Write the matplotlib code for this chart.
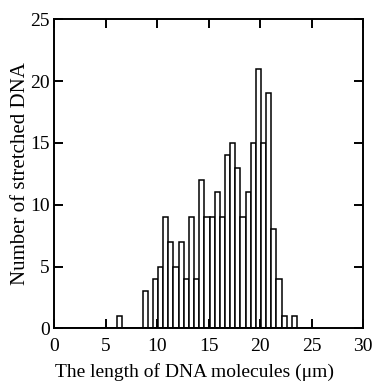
import numpy as np
import matplotlib.pyplot as plt

plt.rcParams['font.family'] = ['Liberation Serif', 'DejaVu Serif']

# histogram bins (0.5 um wide), left edges and counts
bin_left = [6.1, 8.6, 9.1, 9.6, 10.1, 10.6, 11.1, 11.6, 12.1, 12.6, 13.1, 13.6,
            14.1, 14.6, 15.1, 15.6, 16.1, 16.6, 17.1, 17.6, 18.1, 18.6, 19.1,
            19.6, 20.1, 20.6, 21.1, 21.6, 22.1, 22.6, 23.1]
counts = [1, 3, 0, 4, 5, 9, 7, 5, 7, 4, 9, 4,
          12, 9, 9, 11, 9, 14, 15, 13, 9, 11, 15,
          21, 15, 19, 8, 4, 1, 0, 1]
bin_width = 0.5

fig = plt.figure(figsize=(3.75, 3.85), dpi=100)
ax = fig.add_axes([0.144, 0.147, 0.824, 0.803])

ax.bar(bin_left, counts, width=bin_width, align='edge', color='white',
       edgecolor='black', linewidth=1.1)
# zero baseline drawn by the histogram up to 25
ax.plot([0, 25], [0, 0], color='black', lw=2)

ax.set_xlim(0, 30)
ax.set_ylim(0, 25)
ax.set_xticks(range(0, 31, 5))
ax.set_yticks(range(0, 26, 5))
ax.tick_params(direction='in', top=True, right=True, length=6.5, width=1.4,
               labelsize=14)
ax.tick_params(axis='x', pad=7)
ax.tick_params(axis='y', pad=3)
for s in ax.spines.values():
    s.set_linewidth(1.4)

ax.set_xlabel('The length of DNA molecules (\u03bcm)', fontsize=14, labelpad=6)
ax.xaxis.label.set_x(0.456)
ax.set_ylabel('Number of stretched DNA', fontsize=15, labelpad=0.5)

fig.savefig('out.png', dpi=100)
